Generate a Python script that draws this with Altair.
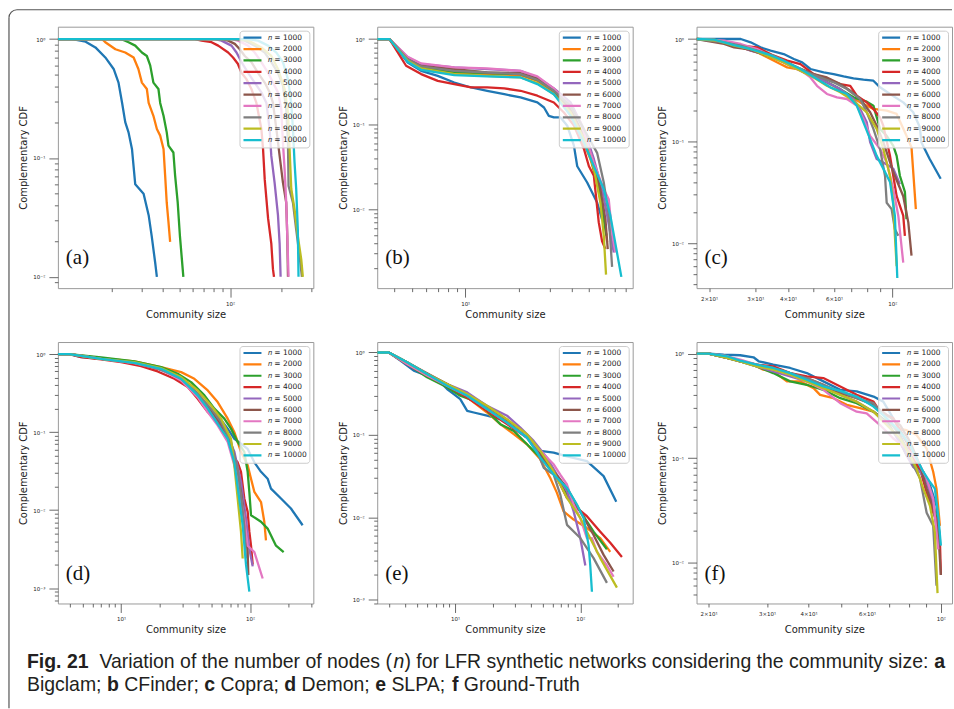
import altair as alt
import pandas as pd

# ---------------- data ----------------
N_VALUES = [1000, 2000, 3000, 4000, 5000, 6000, 7000, 8000, 9000, 10000]
N_LABELS = ["𝑛 = %d" % n for n in N_VALUES]
COLORS = ["#1f77b4", "#ff7f0e", "#2ca02c", "#d62728", "#9467bd",
          "#8c564b", "#e377c2", "#7f7f7f", "#bcbd22", "#17becf"]

# (a) Bigclam
a_size = {
    1000: [9.6, 11.7, 14.0, 16.0, 18.3, 20.5, 21.9, 23.0, 24.0, 25.1, 26.3, 27.5, 30.8, 33.0, 34.4, 36.1, 36.9],
    2000: [9.6, 17.5, 18.3, 21.0, 24.0, 26.9, 28.7, 30.1, 32.2, 33.0, 35.2, 36.9, 38.6, 40.4, 41.3, 42.2, 43.2, 44.2],
    3000: [9.6, 21.9, 23.0, 25.1, 27.5, 30.1, 32.2, 33.7, 35.2, 37.7, 38.6, 40.4, 42.2, 43.2, 46.2, 47.3, 49.0, 50.5, 52.9],
    4000: [9.6, 62, 67.8, 77.6, 85, 97.3, 104, 111, 116.7, 124.7, 133.5, 142.9, 152.9, 156.4, 160, 167.5, 175, 179, 181.5],
    5000: [9.6, 81.3, 88.9, 101.8, 109, 116.7, 127.6, 139.6, 152.9, 163.7, 171, 175, 183, 191.6, 196, 198.6],
    6000: [9.6, 88.9, 97.3, 106.5, 114, 122, 133.5, 146, 160, 171, 179, 187.5, 196, 205, 214.4, 217.5, 219.5],
    7000: [9.6, 101.8, 111.4, 127.6, 139.6, 152.9, 167.5, 179, 191.6, 200.4, 205, 209.7, 214.4, 217.5, 221.3],
    8000: [9.6, 106.5, 122, 139.6, 160, 175, 191.6, 205, 214.4, 219.5, 221.3, 234.9, 245.5, 257, 265.4],
    9000: [9.6, 111.4, 127.6, 152.9, 175, 191.6, 209.7, 219.5, 224.4, 229.6, 240, 251, 263, 268.7],
    10000: [9.6, 127.6, 146, 167.5, 187.5, 205, 219.5, 229.6, 234.9, 240, 245.5, 251, 253.4],
}
a_ccdf = {
    1000: [1, 1, 0.95, 0.85, 0.70, 0.56, 0.43, 0.29, 0.20, 0.164, 0.119, 0.060, 0.050, 0.033, 0.022, 0.013, 0.010],
    2000: [1, 1, 0.94, 0.82, 0.77, 0.70, 0.56, 0.43, 0.38, 0.29, 0.226, 0.175, 0.154, 0.119, 0.071, 0.042, 0.029, 0.0197],
    3000: [1, 1, 0.99, 0.94, 0.88, 0.77, 0.72, 0.60, 0.43, 0.38, 0.29, 0.226, 0.164, 0.127, 0.111, 0.071, 0.042, 0.022, 0.010],
    4000: [1, 1, 0.97, 0.94, 0.88, 0.77, 0.70, 0.62, 0.52, 0.46, 0.38, 0.29, 0.175, 0.119, 0.066, 0.031, 0.019, 0.0116, 0.010],
    5000: [1, 1, 0.97, 0.88, 0.77, 0.64, 0.52, 0.43, 0.356, 0.29, 0.175, 0.104, 0.062, 0.033, 0.019, 0.010],
    6000: [1, 1, 0.97, 0.91, 0.82, 0.72, 0.64, 0.52, 0.43, 0.356, 0.29, 0.175, 0.104, 0.062, 0.042, 0.022, 0.010],
    7000: [1, 1, 0.97, 0.88, 0.77, 0.64, 0.52, 0.43, 0.356, 0.258, 0.135, 0.080, 0.042, 0.022, 0.010],
    8000: [1, 1, 0.97, 0.88, 0.77, 0.64, 0.52, 0.405, 0.258, 0.135, 0.058, 0.042, 0.025, 0.015, 0.010],
    9000: [1, 1, 0.97, 0.85, 0.72, 0.56, 0.38, 0.242, 0.119, 0.055, 0.037, 0.022, 0.014, 0.010],
    10000: [1, 1, 0.97, 0.88, 0.77, 0.64, 0.46, 0.29, 0.175, 0.092, 0.055, 0.025, 0.010],
}

# (b) CFinder
b_size = {
    1000: [3.19, 3.74, 4.74, 5.64, 7.0, 8.67, 10.8, 13.3, 16.6, 20.5, 25.5, 27.8, 29.6, 31.6, 34.5, 37.6, 41.0, 42.8, 48.7, 55.4, 59.1],
    2000: [3.19, 3.74, 4.74, 5.64, 8.67, 13.3, 20.5, 25.5, 31.6, 37.6, 44.7, 50.8, 55.4, 60.4, 63.1],
    3000: [3.19, 3.74, 4.74, 5.64, 8.67, 13.3, 20.5, 25.5, 31.6, 37.6, 44.7, 50.8, 56.6, 60.4, 62.5],
    4000: [3.19, 3.74, 4.64, 5.64, 7.0, 8.67, 10.8, 13.3, 16.6, 20.5, 25.5, 31.6, 36.0, 41.0, 46.7, 49.8, 53.1, 56.6, 59.1, 61.7],
    5000: [3.19, 3.74, 4.74, 5.64, 8.67, 13.3, 20.5, 25.5, 31.6, 39.3, 46.7, 53.1, 59.1, 63.1, 68.8],
    6000: [3.19, 3.74, 4.74, 5.64, 8.67, 13.3, 20.5, 25.5, 31.6, 39.3, 46.7, 53.1, 57.8, 61.7, 63.6],
    7000: [3.19, 3.74, 4.74, 5.64, 8.67, 13.3, 20.5, 25.5, 31.6, 39.3, 44.7, 53.1, 60.4, 64.4, 67.3, 70.2],
    8000: [3.19, 3.74, 4.74, 5.64, 8.67, 13.3, 20.5, 25.5, 31.6, 39.3, 46.7, 55.4, 60.4, 64.4, 67.3],
    9000: [3.19, 3.74, 4.74, 5.64, 8.67, 13.3, 20.5, 25.5, 31.6, 39.3, 46.7, 53.1, 57.8, 60.4, 62.2],
    10000: [3.19, 3.74, 4.74, 5.64, 8.67, 13.3, 20.5, 25.5, 31.6, 39.3, 46.7, 53.1, 60.4, 65.8, 75.9],
}
b_ccdf = {
    1000: [1, 1, 0.531, 0.424, 0.370, 0.309, 0.270, 0.247, 0.225, 0.206, 0.180, 0.157, 0.125, 0.120, 0.120, 0.096, 0.056, 0.032, 0.0206, 0.0120, 0.0076],
    2000: [1, 1, 0.556, 0.464, 0.405, 0.388, 0.377, 0.323, 0.236, 0.150, 0.073, 0.039, 0.0206, 0.0084, 0.0041],
    3000: [1, 1, 0.57, 0.464, 0.413, 0.398, 0.388, 0.332, 0.247, 0.164, 0.080, 0.042, 0.0172, 0.0076, 0.0049],
    4000: [1, 1, 0.486, 0.388, 0.323, 0.296, 0.270, 0.270, 0.263, 0.247, 0.216, 0.180, 0.137, 0.096, 0.051, 0.032, 0.0247, 0.0070, 0.0042, 0.0034],
    5000: [1, 1, 0.61, 0.508, 0.464, 0.444, 0.424, 0.354, 0.263, 0.180, 0.087, 0.039, 0.0172, 0.0084, 0.0031],
    6000: [1, 1, 0.59, 0.486, 0.444, 0.405, 0.398, 0.344, 0.254, 0.150, 0.073, 0.035, 0.0172, 0.0076, 0.0034],
    7000: [1, 1, 0.62, 0.517, 0.464, 0.452, 0.424, 0.364, 0.263, 0.164, 0.105, 0.035, 0.0172, 0.0131, 0.0053, 0.0031],
    8000: [1, 1, 0.58, 0.477, 0.424, 0.405, 0.388, 0.332, 0.247, 0.164, 0.087, 0.046, 0.0206, 0.0084, 0.0021],
    9000: [1, 1, 0.556, 0.452, 0.388, 0.370, 0.354, 0.304, 0.225, 0.137, 0.067, 0.030, 0.0120, 0.0049, 0.0017],
    10000: [1, 1, 0.541, 0.436, 0.377, 0.364, 0.354, 0.296, 0.225, 0.125, 0.061, 0.032, 0.0172, 0.0084, 0.0016],
}

# (c) Copra
c_size = {
    1000: [17.9, 26.4, 28.8, 31.4, 34.3, 38.5, 42.1, 45.3, 48.7, 54.7, 59.7, 65.2, 71.1, 77.6, 84.7, 89.8, 98.0, 110.1, 120.2, 127.4, 129.1, 138.9, 153.0],
    2000: [17.9, 20.9, 23.5, 26.4, 30.5, 34.3, 37.4, 39.7, 43.3, 47.3, 53.1, 59.7, 67.1, 75.4, 84.7, 95.2, 103.9, 113.3, 118.4, 123.0],
    3000: [17.9, 21.5, 24.2, 28.0, 33.3, 39.7, 45.9, 53.1, 61.5, 71.1, 79.9, 84.7, 89.8, 95.2, 100.9, 103.9, 106.9, 111.7, 113.3],
    4000: [17.9, 22.8, 26.4, 30.5, 35.3, 39.7, 44.6, 50.1, 56.3, 63.3, 69.1, 73.2, 79.9, 84.7, 89.8, 92.4, 98.0, 103.9, 110.1, 111.7],
    5000: [17.9, 22.2, 25.6, 28.8, 32.3, 37.4, 43.3, 50.1, 56.3, 63.3, 71.1, 75.4, 79.9, 82.3, 87.2, 92.4, 100.9, 106.9],
    6000: [17.9, 22.8, 24.9, 28.0, 32.3, 37.4, 43.3, 50.1, 56.3, 63.3, 69.1, 75.4, 82.3, 87.2, 92.4, 100.9, 110.1, 115.1, 118.4],
    7000: [17.9, 22.8, 26.4, 30.5, 35.3, 40.9, 45.9, 48.7, 51.6, 56.3, 61.5, 67.1, 73.2, 77.6, 82.3, 89.8, 95.2, 100.9, 105.4, 110.1],
    8000: [17.9, 22.8, 26.4, 30.5, 35.3, 40.9, 47.3, 53.1, 59.7, 67.1, 75.4, 79.9, 84.7, 89.8, 93.8, 95.2, 99.4, 102.3, 105.4],
    9000: [17.9, 21.5, 24.9, 28.8, 33.3, 38.5, 44.6, 50.1, 56.3, 63.3, 71.1, 79.9, 87.2, 92.4, 98.0, 100.9, 102.3, 103.9],
    10000: [17.9, 20.9, 24.9, 28.8, 33.3, 38.5, 44.6, 51.6, 58.0, 67.1, 73.2, 77.6, 82.3, 87.2, 92.4, 98.0, 102.3, 104.5],
}
c_ccdf = {
    1000: [1, 1, 0.928, 0.829, 0.769, 0.713, 0.637, 0.591, 0.509, 0.472, 0.454, 0.431, 0.412, 0.400, 0.391, 0.337, 0.290, 0.240, 0.192, 0.137, 0.098, 0.067, 0.043],
    2000: [1, 0.985, 0.894, 0.829, 0.741, 0.637, 0.569, 0.528, 0.509, 0.472, 0.406, 0.349, 0.290, 0.240, 0.207, 0.199, 0.185, 0.113, 0.087, 0.0217],
    3000: [1, 0.963, 0.894, 0.798, 0.687, 0.591, 0.472, 0.406, 0.337, 0.269, 0.244, 0.223, 0.132, 0.113, 0.090, 0.072, 0.046, 0.032, 0.0173],
    4000: [1, 0.942, 0.861, 0.829, 0.687, 0.614, 0.569, 0.454, 0.406, 0.363, 0.349, 0.279, 0.240, 0.207, 0.171, 0.142, 0.072, 0.029, 0.0187, 0.0119],
    5000: [1, 0.942, 0.861, 0.769, 0.713, 0.614, 0.509, 0.438, 0.377, 0.324, 0.259, 0.207, 0.153, 0.098, 0.067, 0.062, 0.054, 0.038],
    6000: [1, 0.894, 0.829, 0.798, 0.713, 0.614, 0.528, 0.454, 0.421, 0.363, 0.312, 0.259, 0.192, 0.142, 0.098, 0.050, 0.029, 0.0161, 0.0076],
    7000: [1, 0.963, 0.894, 0.798, 0.661, 0.549, 0.472, 0.421, 0.349, 0.290, 0.269, 0.259, 0.223, 0.165, 0.113, 0.084, 0.062, 0.034, 0.0187, 0.0065],
    8000: [1, 0.928, 0.861, 0.769, 0.687, 0.569, 0.472, 0.421, 0.377, 0.324, 0.259, 0.192, 0.132, 0.084, 0.046, 0.025, 0.0217, 0.0138, 0.0119],
    9000: [1, 0.963, 0.861, 0.798, 0.687, 0.591, 0.490, 0.421, 0.349, 0.301, 0.249, 0.192, 0.132, 0.084, 0.046, 0.025, 0.0119, 0.0060],
    10000: [1, 0.985, 0.873, 0.798, 0.713, 0.614, 0.509, 0.406, 0.337, 0.290, 0.223, 0.153, 0.105, 0.072, 0.054, 0.040, 0.0187, 0.0046],
}

# (d) Demon
d_size = {
    1000: [3.23, 3.97, 4.9, 7.0, 10.0, 14.3, 19.2, 25.9, 32.9, 41.7, 49.9, 56.1, 67.1, 75.6, 85.1, 95.9, 108.1, 121.7, 137.0, 145.4, 173.9, 207.8, 256.0],
    2000: [3.23, 3.97, 7.0, 12.7, 20.4, 29.2, 37.0, 47.0, 56.1, 67.1, 75.6, 85.1, 95.9, 101.8, 108.1, 121.7, 129.1, 133.0],
    3000: [3.23, 3.97, 7.0, 12.7, 20.4, 27.5, 34.9, 44.3, 52.9, 63.2, 71.2, 80.2, 90.3, 95.9, 98.8, 101.8, 121.7, 137.0, 159.1, 182.4],
    4000: [3.23, 3.97, 4.9, 7.0, 10.0, 14.3, 19.2, 25.9, 32.9, 39.3, 47.0, 56.1, 67.1, 75.6, 80.2, 85.1, 90.3, 95.9, 98.8, 101.8, 104.9],
    5000: [3.23, 3.97, 7.0, 12.7, 20.4, 29.2, 39.3, 49.9, 63.2, 75.6, 85.1, 93.1, 98.8, 104.9],
    6000: [3.23, 3.97, 7.0, 12.7, 20.4, 29.2, 39.3, 49.9, 63.2, 75.6, 85.1, 90.3, 95.9, 97.0],
    7000: [3.23, 3.97, 7.0, 12.7, 20.4, 29.2, 39.3, 47.0, 56.1, 67.1, 75.6, 82.7, 90.3, 95.9, 108.1, 125.4],
    8000: [3.23, 3.97, 7.0, 12.7, 20.4, 29.2, 39.3, 49.9, 59.6, 71.2, 80.2, 85.1, 90.3, 93.1],
    9000: [3.23, 3.97, 7.0, 12.7, 20.4, 29.2, 39.3, 49.9, 59.6, 71.2, 75.6, 80.2, 85.1, 87.7],
    10000: [3.23, 3.97, 7.0, 12.7, 20.4, 29.2, 39.3, 47.0, 56.1, 67.1, 75.6, 81.2, 87.7, 93.1, 98.8],
}
d_ccdf = {
    1000: [1, 1, 0.915, 0.871, 0.830, 0.752, 0.649, 0.533, 0.397, 0.268, 0.181, 0.164, 0.111, 0.082, 0.071, 0.061, 0.041, 0.031, 0.0253, 0.0189, 0.0141, 0.0105, 0.0064],
    2000: [1, 1, 0.889, 0.805, 0.682, 0.588, 0.483, 0.343, 0.243, 0.149, 0.100, 0.056, 0.0375, 0.0253, 0.0171, 0.0127, 0.0071, 0.0041],
    3000: [1, 1, 0.906, 0.805, 0.682, 0.560, 0.438, 0.296, 0.200, 0.149, 0.111, 0.075, 0.056, 0.031, 0.0171, 0.0086, 0.0071, 0.0058, 0.0035, 0.0029],
    4000: [1, 1, 0.915, 0.855, 0.790, 0.702, 0.600, 0.483, 0.378, 0.268, 0.181, 0.135, 0.091, 0.046, 0.041, 0.031, 0.0141, 0.0095, 0.0053, 0.0035, 0.0020],
    5000: [1, 1, 0.871, 0.774, 0.649, 0.483, 0.296, 0.181, 0.111, 0.056, 0.0230, 0.0078, 0.0032, 0.0019],
    6000: [1, 1, 0.871, 0.774, 0.636, 0.483, 0.311, 0.190, 0.111, 0.046, 0.0171, 0.0078, 0.0029, 0.00147],
    7000: [1, 1, 0.871, 0.767, 0.636, 0.460, 0.281, 0.181, 0.122, 0.075, 0.0375, 0.0189, 0.0078, 0.0035, 0.0029, 0.00133],
    8000: [1, 1, 0.871, 0.774, 0.636, 0.483, 0.311, 0.200, 0.135, 0.075, 0.034, 0.0155, 0.0064, 0.0024],
    9000: [1, 1, 0.871, 0.790, 0.662, 0.508, 0.343, 0.220, 0.149, 0.082, 0.0375, 0.0141, 0.0053, 0.0024],
    10000: [1, 1, 0.871, 0.774, 0.649, 0.483, 0.296, 0.200, 0.128, 0.082, 0.041, 0.0171, 0.0064, 0.0020, 0.00090],
}

# (e) SLPA
e_size = {
    1000: [2.39, 2.96, 3.66, 4.68, 5.98, 7.64, 8.63, 9.76, 11.0, 12.5, 14.1, 18.0, 23.0, 29.4, 37.5, 48.0, 61.3, 78.3, 113.0, 153.5, 193.8],
    2000: [2.39, 2.96, 4.14, 5.98, 8.63, 12.5, 18.0, 23.0, 29.4, 37.5, 48.0, 57.6, 65.1, 73.6, 88.5, 113.0, 144.4, 173.5],
    3000: [2.39, 2.96, 4.14, 5.98, 8.63, 11.0, 14.1, 18.0, 23.0, 29.4, 37.5, 48.0, 61.3, 78.3, 100.0, 127.7, 163.2],
    4000: [2.39, 2.96, 4.14, 5.98, 8.63, 12.5, 18.0, 26.0, 37.5, 48.0, 61.3, 78.3, 94.0, 113.0, 144.4, 173.5, 215.0],
    5000: [2.39, 2.96, 4.14, 5.98, 8.63, 12.5, 15.0, 18.0, 26.0, 33.2, 42.4, 54.2, 65.1, 78.3, 88.5, 100.0, 109.7],
    6000: [2.39, 2.96, 4.14, 5.98, 8.63, 12.5, 18.0, 26.0, 37.5, 48.0, 61.3, 78.3, 100.0, 127.7, 153.5, 184.5],
    7000: [2.39, 2.96, 4.14, 5.98, 8.63, 12.5, 18.0, 26.0, 37.5, 48.0, 61.3, 69.2, 78.3, 88.5, 100.0, 113.0, 123.9, 135.8, 163.2, 184.5],
    8000: [2.39, 2.96, 4.14, 5.98, 8.63, 12.5, 18.0, 26.0, 37.5, 45.1, 51.0, 61.3, 69.2, 78.3, 100.0, 127.7, 163.2],
    9000: [2.39, 2.96, 4.14, 5.98, 8.63, 12.5, 18.0, 26.0, 37.5, 48.0, 61.3, 78.3, 100.0, 113.0, 144.4, 196.1],
    10000: [2.39, 2.96, 4.14, 5.98, 8.63, 12.5, 18.0, 26.0, 37.5, 48.0, 61.3, 78.3, 94.0, 106.3, 116.5, 120.1, 123.9],
}
e_ccdf = {
    1000: [1, 1, 0.799, 0.603, 0.525, 0.435, 0.361, 0.313, 0.272, 0.196, 0.187, 0.171, 0.155, 0.123, 0.093, 0.064, 0.061, 0.055, 0.048, 0.0316, 0.0154],
    2000: [1, 1, 0.727, 0.525, 0.396, 0.285, 0.187, 0.135, 0.102, 0.077, 0.0505, 0.030, 0.0198, 0.0118, 0.0094, 0.0074, 0.0056, 0.0038],
    3000: [1, 1, 0.727, 0.500, 0.378, 0.299, 0.260, 0.196, 0.135, 0.112, 0.077, 0.053, 0.036, 0.0189, 0.0118, 0.0067, 0.0041],
    4000: [1, 1, 0.727, 0.525, 0.396, 0.285, 0.196, 0.135, 0.093, 0.064, 0.036, 0.0172, 0.0130, 0.0103, 0.0067, 0.0049, 0.0033],
    5000: [1, 1, 0.762, 0.549, 0.415, 0.328, 0.272, 0.226, 0.171, 0.123, 0.0845, 0.053, 0.033, 0.0208, 0.0118, 0.0056, 0.0026],
    6000: [1, 1, 0.762, 0.560, 0.415, 0.299, 0.216, 0.148, 0.093, 0.058, 0.036, 0.0228, 0.0118, 0.0061, 0.0035, 0.0022],
    7000: [1, 1, 0.727, 0.525, 0.396, 0.299, 0.206, 0.141, 0.093, 0.064, 0.044, 0.033, 0.025, 0.0143, 0.0098, 0.0056, 0.0056, 0.0038, 0.0026, 0.0019],
    8000: [1, 1, 0.762, 0.549, 0.415, 0.299, 0.206, 0.141, 0.093, 0.064, 0.040, 0.033, 0.0189, 0.0081, 0.0056, 0.0032, 0.0016],
    9000: [1, 1, 0.762, 0.549, 0.415, 0.313, 0.226, 0.155, 0.102, 0.064, 0.036, 0.0172, 0.0098, 0.0067, 0.0032, 0.0014],
    10000: [1, 1, 0.762, 0.549, 0.396, 0.299, 0.206, 0.141, 0.093, 0.053, 0.033, 0.0228, 0.0143, 0.0098, 0.0046, 0.0026, 0.00125],
}

# (f) Ground-Truth
f_size = {
    1000: [18.4, 20.0, 22.2, 24.9, 27.3, 28.3, 31.3, 35.2, 39.5, 44.3, 49.8, 55.8, 62.7, 67.1, 71.9, 78.9, 82.6, 88.5, 92.7, 97.0, 99.3],
    2000: [18.4, 20.0, 22.7, 24.9, 27.3, 29.2, 31.3, 34.4, 37.7, 41.4, 43.3, 47.5, 52.1, 57.1, 62.7, 68.7, 73.6, 78.9, 84.5, 90.6, 94.8, 97.0, 99.3],
    3000: [18.4, 20.0, 22.7, 24.9, 27.9, 31.3, 35.2, 39.5, 44.3, 49.8, 55.8, 62.7, 68.7, 75.4, 78.9, 84.5, 88.5, 92.7, 97.0, 98.6],
    4000: [18.4, 20.0, 22.7, 24.9, 27.9, 31.3, 35.2, 39.5, 44.3, 49.8, 55.8, 62.7, 65.6, 71.9, 78.9, 82.6, 86.5, 90.6, 94.8, 98.2, 99.3, 100.0],
    5000: [18.4, 20.0, 22.7, 24.9, 27.9, 31.3, 35.2, 39.5, 44.3, 49.8, 55.8, 62.7, 68.7, 71.9, 77.1, 78.9, 82.6, 86.5, 90.6, 94.8, 98.2],
    6000: [18.4, 20.0, 22.7, 24.9, 27.9, 31.3, 35.2, 39.5, 44.3, 49.8, 55.8, 62.7, 68.7, 75.4, 80.8, 86.5, 90.6, 94.8, 98.2, 100.0],
    7000: [18.4, 20.0, 22.7, 24.9, 27.9, 31.3, 35.2, 39.5, 44.3, 49.8, 55.8, 59.8, 65.6, 71.9, 78.9, 82.6, 86.5, 90.6, 94.8, 98.2],
    8000: [18.4, 20.0, 22.7, 24.9, 27.9, 31.3, 35.2, 39.5, 44.3, 49.8, 55.8, 62.7, 68.7, 75.4, 78.9, 82.6, 86.5, 90.6, 94.8, 97.0],
    9000: [18.4, 20.0, 22.7, 24.9, 27.9, 31.3, 35.2, 39.5, 44.3, 49.8, 55.8, 62.7, 68.7, 75.4, 80.8, 84.5, 88.5, 92.7, 95.9, 97.7],
    10000: [18.4, 20.0, 22.7, 24.9, 27.9, 31.3, 35.2, 39.5, 44.3, 49.8, 55.8, 62.7, 68.7, 75.4, 80.8, 84.5, 88.5, 92.7, 95.9, 98.2, 100.0],
}
f_ccdf = {
    1000: [1, 1, 0.978, 0.964, 0.922, 0.844, 0.784, 0.728, 0.651, 0.542, 0.450, 0.434, 0.388, 0.347, 0.240, 0.143, 0.092, 0.068, 0.055, 0.035, 0.0168],
    2000: [1, 1, 0.943, 0.844, 0.784, 0.701, 0.676, 0.542, 0.542, 0.467, 0.403, 0.374, 0.323, 0.300, 0.278, 0.223, 0.192, 0.185, 0.166, 0.123, 0.074, 0.051, 0.0225],
    3000: [1, 1, 0.908, 0.844, 0.755, 0.651, 0.542, 0.503, 0.450, 0.374, 0.335, 0.278, 0.223, 0.143, 0.106, 0.085, 0.074, 0.051, 0.026, 0.0145],
    4000: [1, 1, 0.908, 0.856, 0.784, 0.755, 0.651, 0.605, 0.583, 0.485, 0.403, 0.347, 0.278, 0.240, 0.143, 0.099, 0.079, 0.047, 0.030, 0.024, 0.0168, 0.0076],
    5000: [1, 1, 0.922, 0.844, 0.755, 0.676, 0.605, 0.542, 0.485, 0.403, 0.347, 0.278, 0.215, 0.179, 0.123, 0.106, 0.082, 0.074, 0.059, 0.035, 0.0168],
    6000: [1, 1, 0.908, 0.844, 0.784, 0.728, 0.651, 0.583, 0.503, 0.418, 0.374, 0.323, 0.259, 0.207, 0.143, 0.085, 0.051, 0.033, 0.0195, 0.0076],
    7000: [1, 1, 0.943, 0.875, 0.784, 0.701, 0.628, 0.542, 0.450, 0.335, 0.278, 0.268, 0.207, 0.154, 0.123, 0.106, 0.085, 0.064, 0.041, 0.0134],
    8000: [1, 1, 0.908, 0.844, 0.784, 0.728, 0.651, 0.583, 0.503, 0.434, 0.374, 0.335, 0.240, 0.166, 0.123, 0.085, 0.064, 0.030, 0.0225, 0.0060],
    9000: [1, 1, 0.908, 0.844, 0.755, 0.701, 0.628, 0.542, 0.467, 0.403, 0.347, 0.278, 0.207, 0.154, 0.106, 0.079, 0.051, 0.035, 0.0195, 0.0051],
    10000: [1, 1, 0.943, 0.856, 0.784, 0.728, 0.651, 0.562, 0.485, 0.440, 0.388, 0.311, 0.240, 0.179, 0.133, 0.099, 0.074, 0.059, 0.051, 0.028, 0.0145],
}

# axis extents of each panel
X_DOMAINS = {"a": [9.6, 310], "b": [3.19, 87.9], "c": [17.9, 169], "d": [3.23, 310], "e": [2.39, 262], "f": [18.4, 108]}
Y_DOMAINS = {"a": [0.00803, 1.27], "b": [0.00118, 1.40], "c": [0.00366, 1.32], "d": [0.000636, 1.43], "e": [0.00090, 1.34], "f": [0.00406, 1.29]}
X_TICK_FROM = {"a": 20, "b": 4, "c": 20, "d": 4, "e": 3, "f": 20}
MINOR_X_LABELS = {"c": [(20, "2×10¹"), (30, "3×10¹"), (40, "4×10¹"), (60, "6×10¹")],
                  "f": [(20, "2×10¹"), (30, "3×10¹"), (40, "4×10¹"), (60, "6×10¹")]}

CAPTION_1 = [("Fig. 21", "b"), ("  ", "r"), ("Variation of the number of nodes (", "r"), ("n", "i"),
             (") for LFR synthetic networks considering the community size:", "r"), (" ", "r"), ("a", "b")]
CAPTION_2 = [("Bigclam;", "r"), (" ", "r"), ("b", "b"), (" ", "r"), ("CFinder;", "r"), (" ", "r"), ("c", "b"),
             (" ", "r"), ("Copra;", "r"), (" ", "r"), ("d", "b"), (" ", "r"), ("Demon;", "r"), (" ", "r"),
             ("e", "b"), (" ", "r"), ("SLPA;", "r"), (" ", "r"), ("f", "b"), (" ", "r"), ("Ground-Truth", "r")]

# ---------------- helpers ----------------
SUP = str.maketrans("-0123456789", "⁻⁰¹²³⁴⁵⁶⁷⁸⁹")
MAJOR = "abs(log(datum.value)/LN10 - round(log(datum.value)/LN10)) < 0.001"
TICK_DASH = {"condition": {"test": MAJOR, "value": [30, 0]}, "value": [3.5, 40]}


def tick_values(lo, hi):
    vals = []
    for k in range(-4, 4):
        for m in range(1, 10):
            v = round(m * 10.0 ** k, 8)
            if lo <= v <= hi:
                vals.append(v)
    return vals


def major_pairs(lo, hi):
    return [(round(10.0 ** k, 8), "10" + str(k).translate(SUP)) for k in range(-4, 4) if lo <= 10.0 ** k <= hi]


def label_expr(pairs):
    expr = "''"
    for v, t in reversed(pairs):
        expr = "abs(datum.value - %r) < %r ? '%s' : (%s)" % (v, v * 1e-6, t, expr)
    return expr


AXIS_STYLE = dict(tickSize=9, tickWidth=0.8, tickColor="#444444", tickDash=TICK_DASH,
                  labelFont="DejaVu Sans", labelFontSize=5.5, labelColor="#222222",
                  labelPadding=4, labelFlush=False, labelOverlap=False, labelBound=False,
                  titleFont="DejaVu Sans", titleFontSize=10, titleFontWeight="normal",
                  titleColor="#222222", domain=False, grid=False)

LEGEND = alt.Legend(title=None, orient="top-right", offset=4, symbolType="stroke", symbolSize=324,
                    symbolStrokeWidth=2.2, labelFont="DejaVu Sans", labelFontSize=7.5, labelColor="#222222",
                    fillColor="rgba(255,255,255,0.8)", strokeColor="#cccccc", cornerRadius=3,
                    padding=2.5, rowPadding=2.4, clipHeight=9, labelOffset=5)

W, H = 256, 262


def panel(key, sizes, ccdfs):
    rows = []
    for n, lab in zip(N_VALUES, N_LABELS):
        xs, ys = sizes[n], ccdfs[n]
        assert len(xs) == len(ys), (key, n)
        for i, (x, y) in enumerate(zip(xs, ys)):
            rows.append({"series": lab, "size": x, "ccdf": y, "i": i})
    df = pd.DataFrame(rows)
    xlo, xhi = X_DOMAINS[key]
    ylo, yhi = Y_DOMAINS[key]
    xvals = [v for v in tick_values(xlo, xhi) if v >= X_TICK_FROM[key]]
    xpairs = sorted(MINOR_X_LABELS.get(key, []) + [p for p in major_pairs(xlo, xhi) if p[0] >= X_TICK_FROM[key]])
    xaxis = alt.Axis(values=xvals, labelExpr=label_expr(xpairs), title="Community size", titlePadding=2.5,
                     labelBaseline={"condition": {"test": MAJOR, "value": "top"}, "value": "bottom"},
                     **AXIS_STYLE)
    yaxis = alt.Axis(values=tick_values(ylo, yhi), labelExpr=label_expr(major_pairs(ylo, yhi)),
                     title="Complementary CDF", titlePadding=4, **AXIS_STYLE)
    lines = alt.Chart(df).mark_line(strokeWidth=2.3, clip=True, strokeJoin="round").encode(
        x=alt.X("size:Q", scale=alt.Scale(type="log", domain=[xlo, xhi], nice=False), axis=xaxis),
        y=alt.Y("ccdf:Q", scale=alt.Scale(type="log", domain=[ylo, yhi], nice=False), axis=yaxis),
        color=alt.Color("series:N", scale=alt.Scale(domain=N_LABELS, range=COLORS), legend=LEGEND),
        order=alt.Order("i:Q"),
    )
    tag = alt.Chart(pd.DataFrame({"t": ["(%s)" % key]})).mark_text(
        font="Liberation Serif", fontSize=21, align="left", baseline="middle", color="#111111"
    ).encode(text="t:N", x=alt.value(8), y=alt.value(H - 30))
    return [lines, tag]


# Arial / Liberation Sans advance widths (1/1000 em)
REG_W = {" ": 278, "(": 333, ")": 333, ",": 278, "-": 333, ".": 278, ":": 278, ";": 278,
         "A": 667, "B": 667, "C": 722, "D": 722, "F": 611, "G": 778, "L": 556, "P": 667, "R": 722, "S": 667,
         "T": 611, "V": 667,
         "a": 556, "b": 556, "c": 500, "d": 556, "e": 556, "f": 278, "g": 556, "h": 556, "i": 222, "k": 500,
         "l": 222, "m": 833, "n": 556, "o": 556, "p": 556, "r": 333, "s": 500, "t": 278, "u": 556, "w": 722,
         "y": 500, "z": 500}
BOLD_W = {" ": 278, ".": 278, "1": 556, "2": 556, "F": 611, "i": 278, "g": 611, "a": 556, "b": 611, "c": 556,
          "d": 611, "e": 556, "f": 333}
CAP_FS = 19.5


def caption_layers(tokens, x0, y0):
    out = []
    x = x0
    for text, style in tokens:
        table = BOLD_W if style == "b" else REG_W
        width = sum(table.get(ch, 556) for ch in text) / 1000.0 * CAP_FS
        if text.strip():
            out.append(alt.Chart(pd.DataFrame({"t": [text]})).mark_text(
                font="Liberation Sans", fontSize=CAP_FS, align="left", baseline="alphabetic",
                color="#231f20", fontWeight="bold" if style == "b" else "normal",
                fontStyle="italic" if style == "i" else "normal",
            ).encode(text="t:N", x=alt.value(x), y=alt.value(y0)))
        x += width
    return out


# decorations drawn in panel (a) coordinates (panel origin sits at about 56, 24)
one = pd.DataFrame({"k": [0]})
border_top = alt.Chart(one).mark_rule(color="#555555", strokeWidth=1.2).encode(
    x=alt.value(-41), x2=alt.value(896), y=alt.value(-17))
border_left = alt.Chart(one).mark_rule(color="#555555", strokeWidth=1.2).encode(
    x=alt.value(-49), y=alt.value(-9), y2=alt.value(683))
border_corner = alt.Chart(one).mark_arc(color="#555555", innerRadius=7.4, outerRadius=8.6,
                                        theta=4.712389, theta2=6.283185).encode(
    x=alt.value(-41), y=alt.value(-9))

pa = alt.layer(*panel("a", a_size, a_ccdf), border_top, border_left, border_corner,
               *caption_layers(CAPTION_1, -31, 643), *caption_layers(CAPTION_2, -31, 666)
               ).properties(width=W, height=H)
pb = alt.layer(*panel("b", b_size, b_ccdf)).properties(width=W, height=H)
pc = alt.layer(*panel("c", c_size, c_ccdf)).properties(width=W, height=H)
pdd = alt.layer(*panel("d", d_size, d_ccdf)).properties(width=W, height=H)
pe = alt.layer(*panel("e", e_size, e_ccdf)).properties(width=W, height=H)
pf = alt.layer(*panel("f", f_size, f_ccdf)).properties(width=W, height=H)

chart = alt.concat(pa, pb, pc, pdd, pe, pf, columns=3, spacing={"row": 54, "column": 64}, bounds="flush"
                   ).resolve_scale(x="independent", y="independent", color="independent"
                   ).resolve_legend(color="independent"
                   ).properties(padding={"left": 7, "top": 7, "right": 0, "bottom": 0}, background="white"
                   ).configure_view(stroke="#9a9a9a", strokeWidth=1)

chart.save("out.html", embed_options={"renderer": "svg", "actions": False})
